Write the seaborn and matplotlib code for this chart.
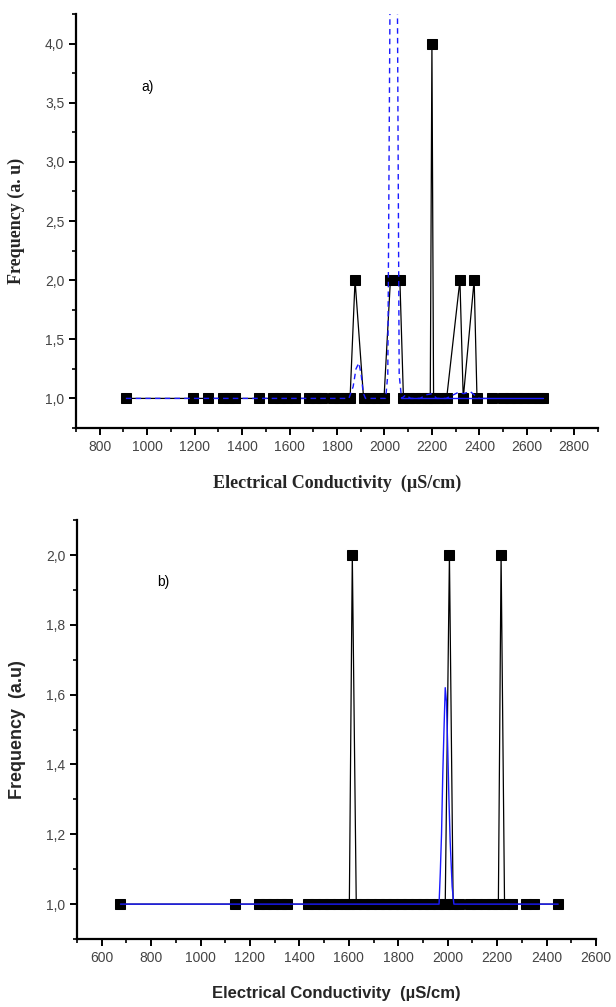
#!/usr/bin/env python3
"""
Two stacked frequency plots of electrical conductivity values (panels a and b),
black line with square markers for the counts and a blue fitted curve.
"""

import matplotlib

matplotlib.use("Agg")
import matplotlib.pyplot as plt
import seaborn as sns
from matplotlib.ticker import FuncFormatter, MultipleLocator

# ---- panel a data ----
ec_a = [910, 1193, 1258, 1320, 1345, 1370, 1473, 1530, 1560, 1590, 1625,
        1680, 1710, 1735, 1785, 1810, 1835, 1855, 1876, 1912, 1940, 1970,
        1998, 2025, 2065, 2080, 2105, 2130, 2155, 2178, 2193, 2200, 2207,
        2235, 2262, 2318, 2332, 2378, 2390, 2452, 2500, 2530, 2560, 2590,
        2620, 2650, 2670]
freq_a = [1, 1, 1, 1, 1, 1, 1, 1, 1, 1, 1,
          1, 1, 1, 1, 1, 1, 1, 2, 1, 1, 1,
          1, 2, 2, 1, 1, 1, 1, 1, 1, 4, 1,
          1, 1, 2, 1, 2, 1, 1, 1, 1, 1, 1,
          1, 1, 1]

fit_a_x = [910, 1850, 1868, 1880, 1892, 1902, 1910, 1920, 2005, 2014, 2024,
           2054, 2062, 2072, 2090, 2110, 2150, 2175, 2200, 2220, 2260, 2290,
           2310, 2335, 2360, 2385, 2400]
fit_a_y = [1.0, 1.0, 1.1, 1.25, 1.3, 1.2, 1.05, 1.0, 1.0, 1.2, 4.6,
           4.6, 1.2, 1.0, 1.03, 1.0, 1.0, 1.03, 1.04, 1.0, 1.0, 1.03,
           1.05, 1.04, 1.06, 1.02, 1.0]
base_a_x = [2070, 2670]
base_a_y = [1.0, 1.0]

# ---- panel b data ----
ec_b = [676, 1138, 1235, 1265, 1295, 1325, 1350, 1435, 1465, 1495, 1525,
        1555, 1585, 1602, 1614, 1630, 1660, 1690, 1720, 1750, 1780, 1810,
        1840, 1870, 1900, 1930, 1960, 1990, 2007, 2022, 2045, 2090, 2120,
        2150, 2180, 2205, 2216, 2230, 2260, 2315, 2350, 2447]
freq_b = [1, 1, 1, 1, 1, 1, 1, 1, 1, 1, 1,
          1, 1, 1, 2, 1, 1, 1, 1, 1, 1, 1,
          1, 1, 1, 1, 1, 1, 2, 1, 1, 1, 1,
          1, 1, 1, 2, 1, 1, 1, 1, 1]

fit_b_x = [676, 1965, 1970, 1975, 1980, 1985, 1990, 1995, 2000, 2005, 2010,
           2018, 2025, 2447]
fit_b_y = [1.0, 1.0, 1.09, 1.2, 1.37, 1.5, 1.62, 1.58, 1.45, 1.3, 1.18,
           1.05, 1.0, 1.0]

sns.set_theme(style="ticks")
plt.rcParams["font.family"] = ["Liberation Sans", "DejaVu Sans"]

BLUE = "#1a1aff"


def comma_fmt(v, pos):
    return f"{v:.1f}".replace(".", ",")


def style_axis(ax, xmaj, ymaj, ymin_step):
    sns.despine(ax=ax)
    for side in ("left", "bottom"):
        ax.spines[side].set_linewidth(1.6)
        ax.spines[side].set_color("black")
    ax.xaxis.set_major_locator(MultipleLocator(xmaj))
    ax.xaxis.set_minor_locator(MultipleLocator(xmaj / 2))
    ax.yaxis.set_major_locator(MultipleLocator(ymaj))
    ax.yaxis.set_minor_locator(MultipleLocator(ymin_step))
    ax.yaxis.set_major_formatter(FuncFormatter(comma_fmt))
    ax.tick_params(which="major", direction="out", length=5, width=1.4,
                   color="black", labelsize=10, labelcolor="#444444")
    ax.tick_params(which="minor", direction="out", length=3, width=1.2,
                   color="black")
    ax.grid(False)


fig = plt.figure(figsize=(6.16, 10.07), dpi=100)

# panel a
ax1 = fig.add_axes([0.1234, 0.575, 0.8474, 0.411])
sns.lineplot(x=ec_a, y=freq_a, ax=ax1, color="black", linewidth=0.9,
             marker="s", markersize=6.5, markeredgecolor="black",
             estimator=None, sort=False, zorder=2)
sns.lineplot(x=fit_a_x, y=fit_a_y, ax=ax1, color=BLUE, linewidth=1.0,
             linestyle=(0, (4, 3)), estimator=None, sort=False, zorder=3)
sns.lineplot(x=base_a_x, y=base_a_y, ax=ax1, color=BLUE, linewidth=1.0,
             estimator=None, sort=False, zorder=3)
ax1.set_xlim(700, 2900)
ax1.set_ylim(0.75, 4.25)
style_axis(ax1, 200, 0.5, 0.25)
ax1.set_xlabel("Electrical Conductivity  (µS/cm)", family="Liberation Serif",
               fontweight="bold", fontsize=13, labelpad=15)
ax1.set_ylabel("Frequency (a. u)", family="Liberation Serif",
               fontweight="bold", fontsize=13, labelpad=14)
ax1.text(975, 3.6, "a)", fontsize=10, color="black")

# panel b
ax2 = fig.add_axes([0.125, 0.0675, 0.8425, 0.416])
sns.lineplot(x=ec_b, y=freq_b, ax=ax2, color="black", linewidth=0.9,
             marker="s", markersize=6.5, markeredgecolor="black",
             estimator=None, sort=False, zorder=2)
sns.lineplot(x=fit_b_x, y=fit_b_y, ax=ax2, color=BLUE, linewidth=1.0,
             estimator=None, sort=False, zorder=3)
ax2.set_xlim(500, 2600)
ax2.set_ylim(0.9, 2.1)
style_axis(ax2, 200, 0.2, 0.1)
ax2.set_xlabel("Electrical Conductivity  (µS/cm)", fontweight="bold",
               fontsize=12, labelpad=15)
ax2.set_ylabel("Frequency  (a.u)", fontweight="bold", fontsize=13,
               labelpad=14)
ax2.text(823, 1.91, "b)", fontsize=10, color="black")

fig.savefig("out.png", dpi=100)
